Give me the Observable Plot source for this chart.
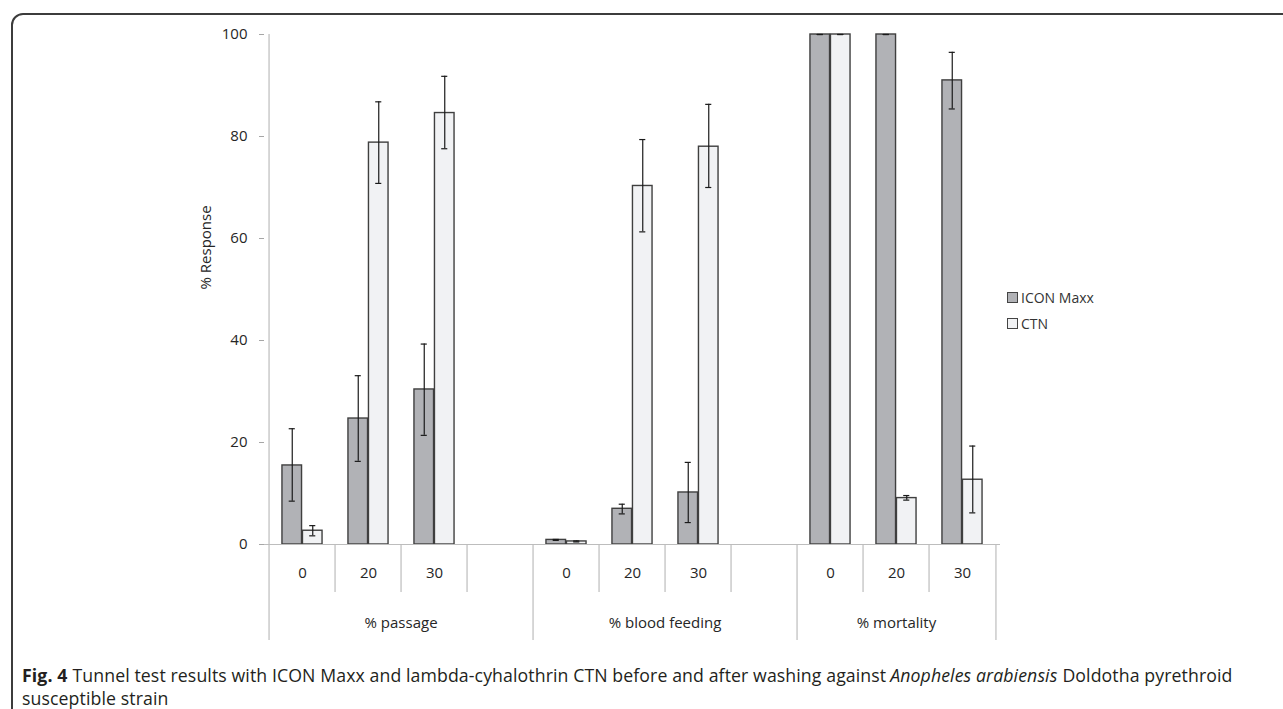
<!DOCTYPE html>
<html>
<head>
<meta charset="utf-8">
<script src="https://cdn.jsdelivr.net/npm/d3@7"></script>
<script src="https://cdn.jsdelivr.net/npm/@observablehq/plot@0.6"></script>
<style>
  html, body { margin: 0; padding: 0; background: #fff; overflow: hidden; }
  body { width: 1283px; height: 709px; position: relative; font-family: "Open Sans", sans-serif; }
  #frame { position: absolute; left: 11px; top: 13px; width: 1320px; height: 740px;
           border: 2px solid #3c3c3c; border-top-left-radius: 12px; box-sizing: border-box; }
  #chart { position: absolute; left: 0; top: 0; }
  #legend { position: absolute; left: 1007px; top: 284px; font-size: 14px; color: #333; }
  #legend .item { display: flex; align-items: center; height: 26px; }
  #legend .sw { width: 9px; height: 9px; border: 1px solid #444; margin-right: 3px; }
  #caption { position: absolute; left: 22px; top: 664px; width: 1255px; font-size: 17.7px; line-height: 23px; color: #231f20; letter-spacing: 0.1px; }
  #caption .line { white-space: nowrap; }
  #caption b { margin-right: 5px; }
  #caption i { margin: 0 5px 0 4px; }
</style>
</head>
<body>
<div id="frame"></div>
<div id="chart"></div>
<div id="legend"></div>
<div id="caption">
  <div class="line"><b>Fig. 4</b><span>Tunnel test results with ICON Maxx and lambda-cyhalothrin CTN before and after washing against</span><i>Anopheles arabiensis</i><span>Doldotha pyrethroid</span></div>
  <div class="line">susceptible strain</div>
</div>
<script>
// ---- data ----
const groups = ["% passage", "% blood feeding", "% mortality"];
const washes = ["0", "20", "30"];
const seriesNames = ["ICON Maxx", "CTN"];
const yTicks = [0, 20, 40, 60, 80, 100];
const yTitle = "% Response";
// values in order: group × wash
const iconMaxx     = [15.5, 24.7, 30.4, 0.9, 7.0, 10.2, 100, 100, 91.0];
const iconMaxxLow  = [8.5, 16.3, 21.4, 0.8, 6.0, 4.3, 100, 100, 85.4];
const iconMaxxHigh = [22.7, 33.1, 39.3, 1.0, 7.9, 16.1, 100, 100, 96.5];
const ctn          = [2.7, 78.8, 84.6, 0.6, 70.3, 78.0, 100, 9.1, 12.7];
const ctnLow       = [1.7, 70.8, 77.6, 0.5, 61.3, 70.0, 100, 8.7, 6.2];
const ctnHigh      = [3.7, 86.8, 91.8, 0.7, 79.4, 86.3, 100, 9.6, 19.3];

const colors = {"ICON Maxx": "#b1b2b6", "CTN": "#f1f2f4"};

// ---- derived tables ----
const slots = [];
const slotInfo = [];
groups.forEach((g, i) => {
  washes.forEach((w, j) => { slots.push(g + "|" + w); slotInfo.push({slot: g + "|" + w, group: g, wash: w, first: j === 0}); });
  if (i < groups.length - 1) { slots.push(g + "|"); slotInfo.push({slot: g + "|", group: g, wash: "", first: false}); }
});
const rows = [];
groups.forEach((g, i) => washes.forEach((w, j) => {
  const k = i * washes.length + j;
  rows.push({slot: g + "|" + w, series: "ICON Maxx", value: iconMaxx[k], lo: iconMaxxLow[k], hi: iconMaxxHigh[k]});
  rows.push({slot: g + "|" + w, series: "CTN", value: ctn[k], lo: ctnLow[k], hi: ctnHigh[k]});
}));
const groupLabels = groups.map(g => {
  const gs = slots.filter(s => s.startsWith(g + "|"));
  return {group: g, slot: gs[Math.floor(gs.length / 2)], even: gs.length % 2 === 0};
});

// ---- layout ----
const W = 1283, H = 660;
const mL = 264, mR = W - 1000, mT = 34, mB = H - 544;
const bw = (W - mL - mR) / slots.length;
const barW = 20.5;
const outer = (bw - 2 * barW) / 2;
const pxPerUnit = (H - mT - mB) / 100;
const innerDrop = -48 / pxPerUnit;
const groupDrop = -96 / pxPerUnit;
const capW = 7;
const inset = s => s === "ICON Maxx" ? {l: outer, r: outer + barW} : {l: outer + barW, r: outer};
const center = s => s === "ICON Maxx" ? outer + barW / 2 : outer + barW * 1.5;
const capInset = s => ({l: center(s) - capW / 2, r: bw - center(s) - capW / 2});
const axisGray = "#bdbdbd";
const textColor = "#262626";

const marks = [];
seriesNames.forEach(s => {
  const d = rows.filter(r => r.series === s);
  marks.push(Plot.barY(d, {x: "slot", y: "value", fill: colors[s], stroke: "#3f3f3f", strokeWidth: 1.4,
    insetLeft: inset(s).l, insetRight: inset(s).r}));
});
marks.push(Plot.ruleY([0], {stroke: axisGray, strokeWidth: 1.2}));
marks.push(Plot.ruleX(slotInfo.filter(d => !d.first), {x: "slot", y1: 0, y2: innerDrop, dx: -bw / 2, stroke: axisGray, strokeWidth: 1.2}));
marks.push(Plot.ruleX(slotInfo.filter(d => d.first), {x: "slot", y1: d => d.slot === slots[0] ? 100 : 0, y2: groupDrop, dx: -bw / 2, stroke: axisGray, strokeWidth: 1.2}));
marks.push(Plot.ruleX([slots[slots.length - 1]], {x: d => d, y1: 0, y2: groupDrop, dx: bw / 2, stroke: axisGray, strokeWidth: 1.2}));
seriesNames.forEach(s => {
  const d = rows.filter(r => r.series === s);
  const dxC = center(s) - bw / 2;
  marks.push(Plot.ruleX(d.filter(r => r.hi > r.lo), {x: "slot", y1: "lo", y2: "hi", dx: dxC, stroke: "#1a1a1a", strokeWidth: 1.2}));
  marks.push(Plot.tickY(d, {x: "slot", y: "hi", stroke: "#1a1a1a", strokeWidth: 1.2, insetLeft: capInset(s).l, insetRight: capInset(s).r}));
  marks.push(Plot.tickY(d, {x: "slot", y: "lo", stroke: "#1a1a1a", strokeWidth: 1.2, insetLeft: capInset(s).l, insetRight: capInset(s).r}));
});
marks.push(Plot.text(slotInfo.filter(d => d.wash !== ""), {x: "slot", y: 0, dy: 29, text: "wash", fontSize: 15, fill: textColor}));
marks.push(Plot.text(groupLabels.filter(d => d.even), {x: "slot", y: 0, dy: 79, dx: -bw / 2, text: "group", fontSize: 15, fill: textColor}));
marks.push(Plot.text(groupLabels.filter(d => !d.even), {x: "slot", y: 0, dy: 79, text: "group", fontSize: 15, fill: textColor}));
marks.push(Plot.axisY(yTicks, {tickSize: 5, tickPadding: 12, stroke: "#a6a6a6", fill: textColor, fontSize: 15, label: null}));
marks.push(Plot.text([yTitle], {frameAnchor: "left", rotate: -90, dx: -58, text: d => d, fontSize: 15, fill: textColor}));

const chart = Plot.plot({
  width: W, height: H,
  marginLeft: mL, marginRight: mR, marginTop: mT, marginBottom: mB,
  x: {type: "band", domain: slots, padding: 0, axis: null},
  y: {domain: [0, 100], axis: null},
  style: {fontFamily: "Open Sans, sans-serif", fontSize: "15px", background: "transparent", overflow: "visible"},
  marks
});
document.getElementById("chart").appendChild(chart);

const lg = document.getElementById("legend");
seriesNames.forEach(s => {
  const it = document.createElement("div"); it.className = "item";
  const sw = document.createElement("span"); sw.className = "sw"; sw.style.background = colors[s];
  const tx = document.createElement("span"); tx.textContent = s;
  it.appendChild(sw); it.appendChild(tx); lg.appendChild(it);
});
</script>
</body>
</html>
